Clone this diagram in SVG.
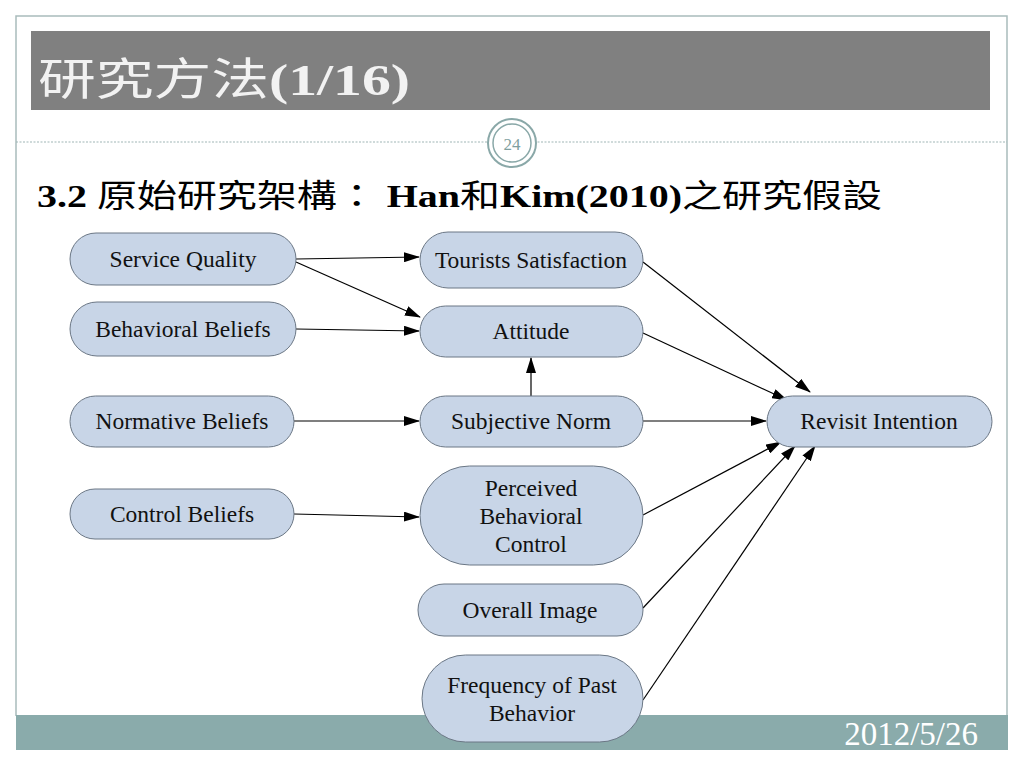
<svg xmlns="http://www.w3.org/2000/svg" width="1024" height="768" viewBox="0 0 1024 768">
<style>
.node rect{fill:#c8d5e7;stroke:#6b7785;stroke-width:1}
.node text{font-family:"Liberation Serif","Times New Roman",serif;font-size:23.5px;fill:#111;text-anchor:middle}
.edge{stroke:#000;stroke-width:1.2;fill:none;marker-end:url(#arr)}
.cjk{font-weight:normal}
.lat{font-weight:bold}
</style>
<defs>
<marker id="arr" markerWidth="16" markerHeight="10" refX="15" refY="5" orient="auto" markerUnits="userSpaceOnUse">
<path d="M0,0 L16,5 L0,10 Z" fill="#000"/>
</marker>
</defs>
<rect x="0" y="0" width="1024" height="768" fill="#fff"/>
<g id="frame">
<path d="M16,716 V16 H1007 V716" fill="none" stroke="#a9bcbc" stroke-width="1.5"/>
<rect x="16" y="715" width="992" height="35" fill="#8aabab"/>
<rect x="31" y="31" width="959" height="79" fill="#808080"/>
<line x1="16" y1="142" x2="1007" y2="142" stroke="#9fb6b6" stroke-width="1.2" stroke-dasharray="2,1.5"/>
<circle cx="512" cy="143" r="24" fill="#fff" stroke="#8aa8a8" stroke-width="2"/>
<circle cx="512" cy="143" r="19" fill="#fff" stroke="#8aa8a8" stroke-width="1.5"/>
<text x="512" y="150" font-family="Liberation Serif, serif" font-size="17" fill="#7f9f9f" text-anchor="middle">24</text>
</g>
<text id="title" x="38" y="95" font-family="'Liberation Serif','Noto Sans CJK TC',serif" font-size="44" fill="#f2f2f2" textLength="372" lengthAdjust="spacingAndGlyphs"><tspan class="cjk">研究方法</tspan><tspan class="lat">(1/16)</tspan></text>
<text id="subtitle" x="37" y="207" font-family="'Liberation Serif','Noto Sans CJK TC',serif" font-size="32" fill="#000" textLength="845" lengthAdjust="spacingAndGlyphs"><tspan class="lat">3.2 </tspan><tspan class="cjk">原始研究架構： </tspan><tspan class="lat">Han</tspan><tspan class="cjk">和</tspan><tspan class="lat">Kim(2010)</tspan><tspan class="cjk">之研究假設</tspan></text>
<text id="date" x="978" y="745" font-family="Liberation Serif, serif" font-size="33" fill="#fff" text-anchor="end">2012/5/26</text>

<g id="connectors">
<line class="edge" x1="296" y1="259" x2="419" y2="257"/>
<line class="edge" x1="296" y1="262" x2="420" y2="317"/>
<line class="edge" x1="296" y1="329" x2="419" y2="331"/>
<line class="edge" x1="294" y1="421" x2="419" y2="421"/>
<line class="edge" x1="294" y1="514" x2="419" y2="517"/>
<line class="edge" x1="531" y1="396" x2="531" y2="358"/>
<line class="edge" x1="643" y1="262" x2="810" y2="392"/>
<line class="edge" x1="643" y1="333" x2="787" y2="400"/>
<line class="edge" x1="643" y1="421" x2="766" y2="421"/>
<line class="edge" x1="643" y1="515" x2="781" y2="442"/>
<line class="edge" x1="643" y1="608" x2="795" y2="446"/>
<line class="edge" x1="643" y1="700" x2="815" y2="446"/>
</g>

<g id="n-service-quality" class="node"><rect x="70" y="233" width="226" height="52" rx="26"/><text x="183" y="267">Service Quality</text></g>
<g id="n-behavioral-beliefs" class="node"><rect x="70" y="302" width="226" height="54" rx="27"/><text x="183" y="337">Behavioral Beliefs</text></g>
<g id="n-normative-beliefs" class="node"><rect x="70" y="396" width="224" height="51" rx="25.5"/><text x="182" y="429">Normative Beliefs</text></g>
<g id="n-control-beliefs" class="node"><rect x="70" y="489" width="224" height="50" rx="25"/><text x="182" y="522">Control Beliefs</text></g>
<g id="n-tourists-satisfaction" class="node"><rect x="420" y="232" width="223" height="56" rx="28"/><text x="531" y="268">Tourists Satisfaction</text></g>
<g id="n-attitude" class="node"><rect x="420" y="306" width="223" height="51" rx="25.5"/><text x="531" y="339">Attitude</text></g>
<g id="n-subjective-norm" class="node"><rect x="420" y="396" width="223" height="51" rx="25.5"/><text x="531" y="429">Subjective Norm</text></g>
<g id="n-pbc" class="node"><rect x="420" y="466" width="223" height="99" rx="49.5"/><text x="531" y="496">Perceived</text><text x="531" y="524">Behavioral</text><text x="531" y="552">Control</text></g>
<g id="n-overall-image" class="node"><rect x="418" y="584" width="225" height="52" rx="26"/><text x="530" y="618">Overall Image</text></g>
<g id="n-frequency" class="node"><rect x="422" y="655" width="221" height="87" rx="43.5"/><text x="532" y="693">Frequency of Past</text><text x="532" y="721">Behavior</text></g>
<g id="n-revisit-intention" class="node"><rect x="767" y="396" width="225" height="51" rx="25.5"/><text x="879" y="429">Revisit Intention</text></g>
</svg>
